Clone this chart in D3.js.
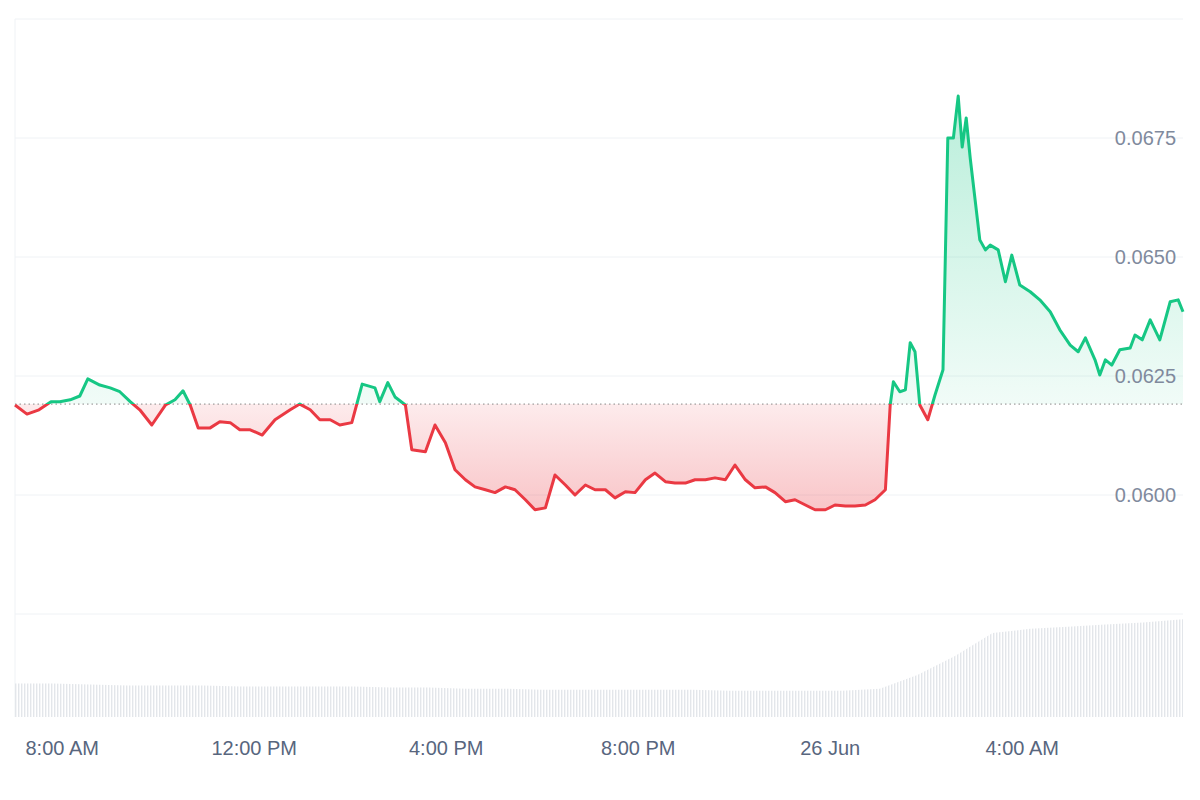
<!DOCTYPE html>
<html>
<head>
<meta charset="utf-8">
<script src="https://cdn.jsdelivr.net/npm/d3@7"></script>
<style>
  body { margin: 0; background: #fff; }
  text { font-family: "Liberation Sans", Arial, sans-serif; }
</style>
</head>
<body>
<svg id="chart" width="1200" height="800"></svg>
<script>
// minutes after 25 Jun 07:01
const minutes = [0,15,30,45,56,69,81,91,106,119,131,144,156,171,188,200,210,219,229,244,
  256,269,281,294,309,325,344,356,369,381,394,406,421,434,450,456,466,475,488,496,
  513,525,538,550,563,575,588,600,613,625,638,650,663,675,688,700,713,725,738,750,
  763,775,788,800,813,825,838,850,863,875,888,900,913,925,938,950,963,975,988,1000,
  1013,1025,1038,1050,1063,1075,1088,1094,1098,1106,1113,1119,1125,1131,1141,1150,1160,1166,1173,1179,
  1184,1189,1194,1206,1213,1219,1229,1238,1246,1256,1269,1281,1294,1306,1319,1329,1338,1350,1356,1363,
  1371,1381,1394,1400,1409,1419,1431,1444,1454,1460];
const prices = [0.06189,0.06170,0.06179,0.06196,0.06196,0.06200,0.06208,0.06244,0.06231,0.06225,
  0.06217,0.06196,0.06179,0.06147,0.06189,0.06200,0.06219,0.06189,0.06141,0.06141,
  0.06154,0.06152,0.06137,0.06137,0.06126,0.06158,0.06179,0.06191,0.06179,0.06158,
  0.06158,0.06147,0.06152,0.06233,0.06225,0.06196,0.06236,0.06206,0.06189,0.06095,
  0.06091,0.06147,0.06110,0.06053,0.06032,0.06017,0.06011,0.06005,0.06017,0.06011,
  0.05990,0.05969,0.05973,0.06042,0.06021,0.06000,0.06021,0.06011,0.06011,0.05994,
  0.06007,0.06005,0.06032,0.06046,0.06028,0.06025,0.06025,0.06032,0.06032,0.06036,
  0.06032,0.06063,0.06032,0.06015,0.06017,0.06005,0.05986,0.05990,0.05979,0.05969,
  0.05969,0.05979,0.05977,0.05977,0.05979,0.05990,0.06011,0.06189,0.06238,0.06217,
  0.06221,0.06320,0.06301,0.06189,0.06158,0.06210,0.06263,0.0675,0.0675,0.06838,
  0.06731,0.06792,0.06708,0.06536,0.06515,0.06525,0.06515,0.06448,0.06504,0.06441,
  0.06427,0.06410,0.06385,0.06347,0.06315,0.06301,0.06330,0.06284,0.06252,0.06284,
  0.06273,0.06305,0.06309,0.06336,0.06326,0.06368,0.06326,0.06406,0.06410,0.06385];
const basePrice = 0.06191;
// volume, minutes after 07:01
const volMinutes = [0,47,94,141,188,235,282,329,376,423,470,517,564,611,658,705,752,799,846,893,
  940,987,1034,1081,1128,1175,1222,1269,1316,1363,1410,1460];
const volume = [32,32,31,30,30,30,29,29,29,29,28,28,27,27,26,26,26,26,26,25,25,25,25,27,40,58,80,84,86,88,90,93];
const yTicks = [0.0600, 0.0625, 0.0650, 0.0675];
const gridTicks = [0.0575, 0.0600, 0.0625, 0.0650, 0.0675, 0.0700];
const xTickLabels = ["8:00 AM", "12:00 PM", "4:00 PM", "8:00 PM", "26 Jun", "4:00 AM"];

const t0 = new Date(2024, 5, 25, 7, 1);
const data = minutes.map((m, i) => ({ t: new Date(+t0 + m * 60000), v: prices[i] }));

const svg = d3.select("#chart");
const left = 15, right = 1183;
const x = d3.scaleTime().domain([t0, new Date(+t0 + 1460 * 60000)]).range([left, right]);
const y = d3.scaleLinear().domain([0.0575, 0.0700]).range([614, 19]);
const yVol = d3.scaleLinear().domain([0, 100]).range([717, 612]);
const green = "#16c784", red = "#ea3943";

// grid
svg.append("g").selectAll("line").data(gridTicks).join("line")
  .attr("x1", left).attr("x2", right).attr("y1", d => y(d)).attr("y2", d => y(d))
  .attr("stroke", "#eff2f5").attr("stroke-width", 1);
svg.append("line").attr("x1", left).attr("x2", left).attr("y1", 19).attr("y2", 717)
  .attr("stroke", "#eff2f5");

const defs = svg.append("defs");
const gG = defs.append("linearGradient").attr("id", "gG").attr("x1", 0).attr("x2", 0)
  .attr("gradientUnits", "userSpaceOnUse").attr("y1", y(0.0684)).attr("y2", y(basePrice));
gG.append("stop").attr("offset", 0).attr("stop-color", green).attr("stop-opacity", 0.3);
gG.append("stop").attr("offset", 1).attr("stop-color", green).attr("stop-opacity", 0.06);
const gR = defs.append("linearGradient").attr("id", "gR").attr("x1", 0).attr("x2", 0)
  .attr("gradientUnits", "userSpaceOnUse").attr("y1", y(basePrice)).attr("y2", y(0.0596));
gR.append("stop").attr("offset", 0).attr("stop-color", red).attr("stop-opacity", 0.1);
gR.append("stop").attr("offset", 1).attr("stop-color", red).attr("stop-opacity", 0.3);
defs.append("clipPath").attr("id", "above").append("rect")
  .attr("x", 0).attr("y", 0).attr("width", 1200).attr("height", y(basePrice));
defs.append("clipPath").attr("id", "below").append("rect")
  .attr("x", 0).attr("y", y(basePrice)).attr("width", 1200).attr("height", 800);
const pat = defs.append("pattern").attr("id", "stripes").attr("patternUnits", "userSpaceOnUse")
  .attr("width", 3).attr("height", 10);
pat.append("rect").attr("width", 1.4).attr("height", 10).attr("fill", "#e3e6ea");

// volume
const volData = volume.map((v, i) => ({ t: new Date(+t0 + volMinutes[i] * 60000), v }));
svg.append("path").datum(volData)
  .attr("d", d3.area().x(d => x(d.t)).y0(717).y1(d => yVol(d.v)))
  .attr("fill", "url(#stripes)");

// areas
const area = d3.area().x(d => x(d.t)).y0(y(basePrice)).y1(d => y(d.v));
const line = d3.line().x(d => x(d.t)).y(d => y(d.v));
svg.append("path").datum(data).attr("d", area).attr("fill", "url(#gG)").attr("clip-path", "url(#above)");
svg.append("path").datum(data).attr("d", area).attr("fill", "url(#gR)").attr("clip-path", "url(#below)");

// baseline
svg.append("line").attr("x1", left).attr("x2", right).attr("y1", y(basePrice)).attr("y2", y(basePrice))
  .attr("stroke", "#888").attr("stroke-width", 1).attr("stroke-dasharray", "1.5,3");

svg.append("path").datum(data).attr("d", line).attr("fill", "none").attr("stroke", green)
  .attr("stroke-width", 3).attr("stroke-linejoin", "round").attr("clip-path", "url(#above)");
svg.append("path").datum(data).attr("d", line).attr("fill", "none").attr("stroke", red)
  .attr("stroke-width", 3).attr("stroke-linejoin", "round").attr("clip-path", "url(#below)");

// y labels
svg.append("g").selectAll("text").data(yTicks).join("text")
  .attr("x", 1176).attr("y", d => y(d) + 7).attr("text-anchor", "end")
  .attr("font-size", 20).attr("fill", "#808a9d").text(d => d.toFixed(4));

// x labels
const xTicks = [8, 12, 16, 20, 24, 28].map(h => new Date(2024, 5, 25, h, 0));
svg.append("g").selectAll("text").data(xTicks).join("text")
  .attr("x", d => x(d)).attr("y", 755).attr("text-anchor", "middle")
  .attr("font-size", 20).attr("fill", "#58667e").text((d, i) => xTickLabels[i]);
</script>
</body>
</html>
